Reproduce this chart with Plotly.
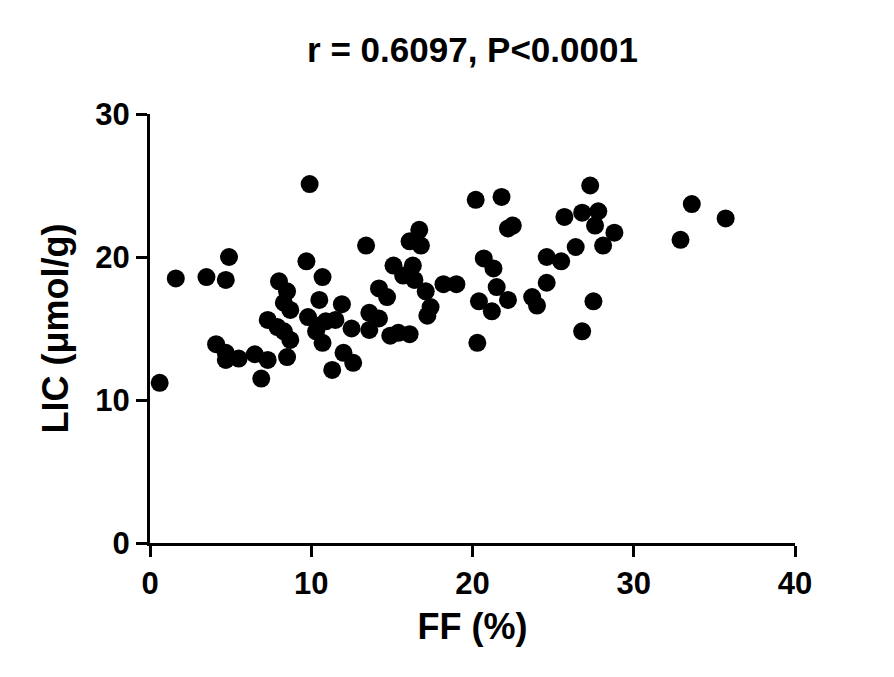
import plotly.graph_objects as go

ff = [0.6, 1.6, 3.5, 4.9, 4.7, 4.1, 4.7, 4.7, 5.5, 6.5, 6.9, 7.3, 7.3, 7.9, 8.3, 8.7,
      8.5, 8.0, 8.5, 8.3, 8.7, 9.7, 9.9, 10.7, 10.5, 11.9, 9.8, 10.4, 10.9, 11.5, 10.3,
      10.7, 12.5, 12.0, 11.3, 12.6, 13.4, 14.2, 14.7, 13.6, 14.2, 13.6, 14.9, 15.4, 16.1,
      15.1, 15.7, 16.3, 16.4, 16.7, 16.1, 16.8, 17.1, 17.4, 17.2, 18.2, 19.0, 20.2, 21.8,
      22.2, 22.5, 20.7, 21.3, 21.5, 20.4, 21.2, 22.2, 20.3, 23.7, 24.0, 27.3, 25.7, 26.8,
      27.8, 27.6, 28.8, 28.1, 26.4, 24.6, 25.5, 24.6, 27.5, 26.8, 33.6, 35.7, 32.9]
lic = [11.2, 18.5, 18.6, 20.0, 18.4, 13.9, 13.3, 12.8, 12.9, 13.2, 11.5, 12.8, 15.6, 15.1, 14.8, 14.2,
       13.0, 18.3, 17.6, 16.8, 16.3, 19.7, 25.1, 18.6, 17.0, 16.7, 15.8, 15.2, 15.5, 15.6, 14.8,
       14.0, 15.0, 13.3, 12.1, 12.6, 20.8, 17.8, 17.2, 16.1, 15.7, 14.9, 14.5, 14.7, 14.6,
       19.4, 18.7, 19.4, 18.4, 21.9, 21.1, 20.8, 17.6, 16.5, 15.9, 18.1, 18.1, 24.0, 24.2,
       22.0, 22.2, 19.9, 19.2, 17.9, 16.9, 16.2, 17.0, 14.0, 17.2, 16.6, 25.0, 22.8, 23.1,
       23.2, 22.2, 21.7, 20.8, 20.7, 20.0, 19.7, 18.2, 16.9, 14.8, 23.7, 22.7, 21.2]

x_ticks = [0, 10, 20, 30, 40]
y_ticks = [0, 10, 20, 30]
title_text = "r = 0.6097, P<0.0001"
x_title = "FF (%)"
y_title = "LIC (μmol/g)"

FONT = "Arial, Liberation Sans, sans-serif"
W, H = 886, 669  # page body has an 8px margin

fig = go.Figure(go.Scatter(
    x=ff, y=lic, mode="markers",
    marker=dict(size=18, color="black", line=dict(width=0)),
    cliponaxis=False, hoverinfo="x+y"))

axis_common = dict(
    showline=True, linewidth=3, linecolor="black",
    ticks="outside", ticklen=11, tickwidth=3, tickcolor="black",
    showgrid=False, zeroline=False, mirror=False,
    tickfont=dict(family=FONT, size=31, color="black", weight="bold"),
)

fig.update_layout(
    width=W, height=H,
    margin=dict(l=142, r=99, t=106, b=134),
    paper_bgcolor="white", plot_bgcolor="white",
    showlegend=False,
    title=dict(text=f"<b>{title_text}</b>", x=0.5, xref="paper", xanchor="center",
               y=1 - 42 / H, yref="container", yanchor="middle",
               font=dict(family=FONT, size=35, color="black")),
    xaxis=dict(range=[0, 40], tickvals=x_ticks, ticktext=[str(v) for v in x_ticks],
               title=dict(text=f"<b>{x_title}</b>", font=dict(family=FONT, size=36, color="black"),
                          standoff=14),
               **axis_common),
    yaxis=dict(range=[0, 30], tickvals=y_ticks, ticktext=[str(v) for v in y_ticks],
               title=dict(text=f"<b>{y_title}</b>", font=dict(family=FONT, size=36, color="black"),
                          standoff=16),
               **axis_common),
)

fig.write_html("out.html")
